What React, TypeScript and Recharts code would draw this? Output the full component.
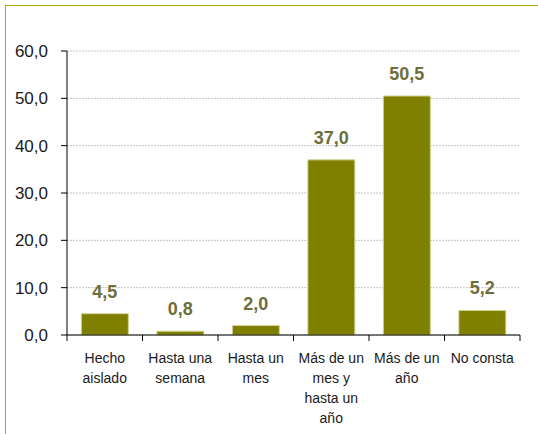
import { Bar, BarChart, CartesianGrid, LabelList, XAxis, YAxis } from "recharts";

const categories = [
  "Hecho aislado",
  "Hasta una semana",
  "Hasta un mes",
  "Más de un mes y hasta un año",
  "Más de un año",
  "No consta",
];
const tickLabels = [
  ["Hecho", "aislado"],
  ["Hasta una", "semana"],
  ["Hasta un", "mes"],
  ["Más de un", "mes y", "hasta un", "año"],
  ["Más de un", "año"],
  ["No consta"],
];
const values = [4.5, 0.8, 2.0, 37.0, 50.5, 5.2];
const yTicks = [0, 10, 20, 30, 40, 50, 60];

const data = categories.map((c, i) => ({ cat: c, value: values[i] }));

const W = 538;
const H = 434;
const M = { top: 51, right: 18, bottom: 0, left: 0 };
const Y_W = 67;
const BAND = (W - M.left - M.right - Y_W) / categories.length;
const FONT = "'Liberation Sans', Arial, sans-serif";

const fmt = (v: number) => v.toFixed(1).replace(".", ",");

function CategoryTick(props: any) {
  const { x, y, index } = props;
  const lines = tickLabels[index] || [];
  return (
    <g>
      <line x1={x - BAND / 2} x2={x - BAND / 2} y1={y} y2={y + 6} stroke="#000" />
      {index === categories.length - 1 && (
        <line x1={x + BAND / 2} x2={x + BAND / 2} y1={y} y2={y + 6} stroke="#000" />
      )}
      {lines.map((l, i) => (
        <text key={i} x={x} y={y + 28 + i * 20} textAnchor="middle" fontSize={14} fill="#1a1a1a" fontFamily={FONT}>
          {l}
        </text>
      ))}
    </g>
  );
}

export default function App() {
  return (
    <div style={{ position: "fixed", left: 0, top: 0, width: W, height: H, background: "#fff" }}>
      <div
        style={{
          position: "absolute",
          left: 5,
          top: 5,
          width: W - 5,
          height: H - 5,
          borderTop: "1.5px solid #b3ab00",
          borderLeft: "1.5px solid #b3ab00",
          boxSizing: "border-box",
        }}
      />
      <BarChart
        width={W}
        height={H}
        data={data}
        margin={M}
        barCategoryGap="19%"
        style={{ position: "absolute", left: 0, top: 0, fontFamily: FONT }}
      >
        <CartesianGrid vertical={false} stroke="#c4c4c4" strokeDasharray="2 1" />
        <XAxis
          dataKey="cat"
          height={99}
          interval={0}
          tickLine={false}
          tickSize={0}
          tickMargin={0}
          axisLine={{ stroke: "#000" }}
          tick={<CategoryTick />}
        />
        <YAxis
          width={Y_W}
          domain={[0, 60]}
          ticks={yTicks}
          interval={0}
          tickFormatter={fmt}
          tickSize={6}
          tickMargin={13}
          axisLine={{ stroke: "#000" }}
          tickLine={{ stroke: "#000" }}
          tick={{ fontSize: 17, fill: "#1a1a1a", fontFamily: FONT }}
        />
        <Bar dataKey="value" fill="#808000" stroke="#d4d49a" strokeWidth={1} isAnimationActive={false}>
          <LabelList
            dataKey="value"
            position="top"
            offset={16}
            formatter={(v: any) => fmt(Number(v))}
            style={{ fontSize: 18, fontWeight: "bold", fill: "#6e6e3a", fontFamily: FONT }}
          />
        </Bar>
      </BarChart>
    </div>
  );
}
